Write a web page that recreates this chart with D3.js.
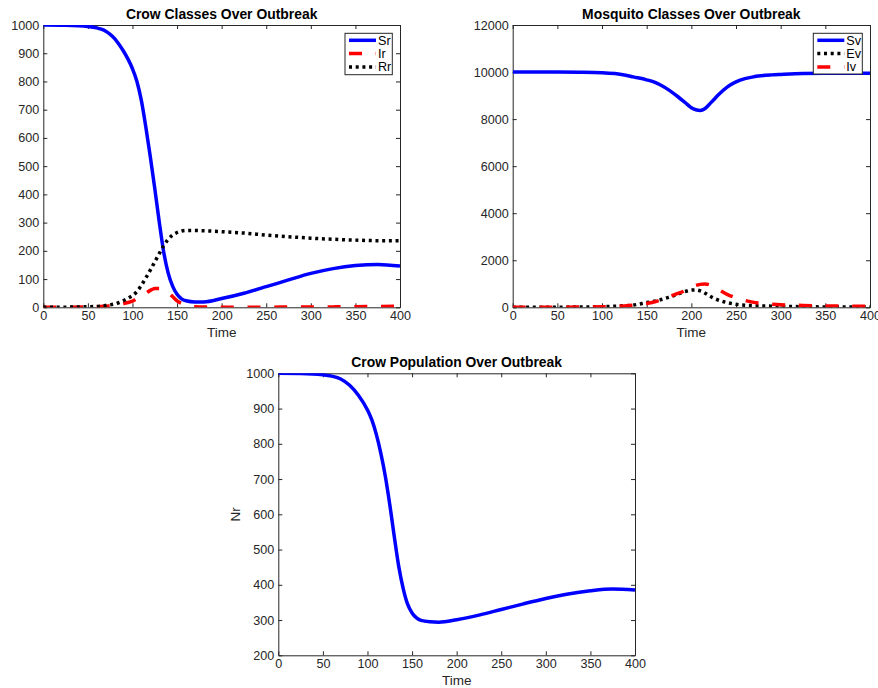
<!DOCTYPE html>
<html>
<head>
<meta charset="utf-8">
<script src="https://cdn.jsdelivr.net/npm/d3@7"></script>
<style>
  html, body { margin: 0; padding: 0; background: #fff; }
  svg { display: block; font-family: "Liberation Sans", Arial, Helvetica, sans-serif; }
</style>
</head>
<body>
<svg id="chart" width="878" height="688"></svg>
<script>
// ---------------- DATA ----------------
const crowTime = [0, 25, 50, 60, 65, 70, 75, 80, 85, 90, 95, 100, 105, 110, 115, 120, 125, 130, 135, 140, 145, 150, 155, 160, 170, 180, 200, 225, 250, 275, 300, 325, 350, 375, 400];
const crowSr   = [1000, 999, 995, 990, 985, 978, 967, 952, 931, 907, 879, 845, 800, 732, 638, 533, 421, 303, 196, 122, 75, 46, 30, 23, 19, 19, 31, 50, 73, 97, 120, 137, 148, 152, 146];
const crowIr   = [0, 0.3, 1, 2, 3, 4, 5.5, 7, 10, 13, 17, 22, 31, 40, 50, 60, 67, 67, 62, 52, 38, 23, 14, 8, 2, 1, 0.5, 0.5, 0.5, 0.8, 1, 1.5, 2, 3, 4];
const crowRr   = [0, 0.5, 2, 3, 4.5, 6, 8.5, 12, 17, 24, 32, 42, 56, 78, 104, 132, 161, 190, 218, 241, 256, 265, 270, 272, 272, 271, 268, 263, 256, 250, 245, 241, 238, 236, 236];

const mosqTime = [0, 50, 75, 100, 125, 135, 150, 160, 165, 175, 185, 190, 195, 200, 205, 210, 215, 220, 225, 230, 240, 250, 260, 270, 275, 290, 300, 325, 350, 400];
const mosqSv   = [10000, 9997, 9990, 9968, 9878, 9795, 9670, 9550, 9460, 9230, 8950, 8800, 8640, 8480, 8395, 8370, 8440, 8620, 8820, 9020, 9360, 9580, 9720, 9800, 9830, 9880, 9900, 9940, 9950, 9950];
const mosqEv   = [0, 5, 12, 25, 65, 95, 200, 270, 315, 430, 560, 640, 690, 730, 740, 700, 610, 490, 390, 310, 200, 127, 90, 70, 60, 48, 40, 25, 15, 8];
const mosqIv   = [0, 3, 8, 20, 60, 90, 160, 240, 300, 450, 590, 660, 760, 850, 930, 975, 990, 960, 880, 770, 550, 400, 290, 210, 185, 135, 110, 80, 60, 45];

const popTime  = [0, 25, 50, 60, 70, 80, 90, 100, 105, 110, 115, 120, 125, 130, 135, 140, 145, 150, 155, 160, 170, 180, 200, 225, 250, 275, 300, 325, 350, 375, 400];
const popNr    = [1000, 999.5, 996, 992, 984, 966, 937, 896, 867, 826, 773, 708, 628, 538, 453, 390, 345, 320, 306, 299, 295, 294, 301, 314, 330, 346, 361, 374, 383, 388, 385];

const xTicks      = [0, 50, 100, 150, 200, 250, 300, 350, 400];
const crowYTicks  = [0, 100, 200, 300, 400, 500, 600, 700, 800, 900, 1000];
const mosqYTicks  = [0, 2000, 4000, 6000, 8000, 10000, 12000];
const popYTicks   = [200, 300, 400, 500, 600, 700, 800, 900, 1000];

const titles = ["Crow Classes Over Outbreak", "Mosquito Classes Over Outbreak", "Crow Population Over Outbreak"];
const crowLegend = ["Sr", "Ir", "Rr"];
const mosqLegend = ["Sv", "Ev", "Iv"];

// ---------------- STYLE ----------------
const AX = "#262626";
const TICK_FS = 12.6, LABEL_FS = 13.5, TITLE_FS = 13.9;
const styles = {
  solid:  { color: "#0000ff", dash: null },
  dashed: { color: "#ff0000", dash: "13,13.7" },
  dotted: { color: "#000000", dash: "3,3.7" }
};
const LW = 3.5;

const svg = d3.select("#chart");
const defs = svg.append("defs");
let clipId = 0;

function panel(cfg) {
  const { left, right, top, bottom, xDomain, yDomain, yTicks, title, ylabel } = cfg;
  const x = d3.scaleLinear().domain(xDomain).range([left, right]);
  const y = d3.scaleLinear().domain(yDomain).range([bottom, top]);
  const g = svg.append("g");

  const id = "clip" + (clipId++);
  defs.append("clipPath").attr("id", id).append("rect")
    .attr("x", left).attr("y", top).attr("width", right - left).attr("height", bottom - top);

  const axB = g.append("g").attr("transform", `translate(0,${bottom})`)
    .call(d3.axisBottom(x).tickValues(xTicks).tickSizeInner(-4).tickSizeOuter(0).tickPadding(4).tickFormat(d3.format("d")));
  const axT = g.append("g").attr("transform", `translate(0,${top})`)
    .call(d3.axisTop(x).tickValues(xTicks).tickSizeInner(-4).tickSizeOuter(0).tickFormat(""));
  const axL = g.append("g").attr("transform", `translate(${left},0)`)
    .call(d3.axisLeft(y).tickValues(yTicks).tickSizeInner(-4).tickSizeOuter(0).tickPadding(4).tickFormat(d3.format("d")));
  const axR = g.append("g").attr("transform", `translate(${right},0)`)
    .call(d3.axisRight(y).tickValues(yTicks).tickSizeInner(-4).tickSizeOuter(0).tickFormat(""));
  [axB, axT, axL, axR].forEach(a => {
    a.select(".domain").attr("stroke", AX);
    a.selectAll(".tick line").attr("stroke", AX);
    a.selectAll("text").attr("fill", AX).style("font-size", TICK_FS + "px")
      .style("font-family", '"Liberation Sans", Arial, Helvetica, sans-serif');
  });

  g.append("text").attr("x", (left + right) / 2).attr("y", top - 6)
    .attr("text-anchor", "middle").style("font-weight", "bold").style("font-size", TITLE_FS + "px")
    .attr("fill", "#000").text(title);
  g.append("text").attr("x", (left + right) / 2).attr("y", bottom + 30)
    .attr("text-anchor", "middle").style("font-size", LABEL_FS + "px").attr("fill", AX).text("Time");
  if (ylabel) {
    g.append("text").attr("transform", `translate(${left - 38},${(top + bottom) / 2}) rotate(-90)`)
      .attr("text-anchor", "middle").style("font-size", LABEL_FS + "px").attr("fill", AX).text(ylabel);
  }
  const plot = g.append("g").attr("clip-path", `url(#${id})`);
  return { x, y, g, plot };
}

function drawLine(p, xs, ys, style) {
  const s = styles[style];
  const line = d3.line().x((d, i) => p.x(xs[i])).y(d => p.y(d)).curve(d3.curveMonotoneX);
  p.plot.append("path").datum(ys).attr("d", line)
    .attr("fill", "none").attr("stroke", s.color).attr("stroke-width", LW)
    .attr("stroke-dasharray", s.dash);
}

function legend(p, box, names, styleNames) {
  const lg = p.g.append("g");
  lg.append("rect").attr("x", box.x).attr("y", box.y).attr("width", box.w).attr("height", box.h)
    .attr("fill", "#fff").attr("stroke", AX).attr("stroke-width", 1);
  names.forEach((n, i) => {
    const yy = box.y + 7 + i * 13.3;
    const s = styles[styleNames[i]];
    lg.append("line").attr("x1", box.x + 4).attr("x2", box.x + 31).attr("y1", yy).attr("y2", yy)
      .attr("stroke", s.color).attr("stroke-width", LW).attr("stroke-dasharray", s.dash);
    lg.append("text").attr("x", box.x + 33).attr("y", yy).attr("dy", "0.35em")
      .style("font-size", TICK_FS + "px").attr("fill", "#000").text(n);
  });
}

// ---------------- PANEL 1 ----------------
const p1 = panel({ left: 43.3, right: 400, top: 25, bottom: 307.3, xDomain: [0, 400], yDomain: [0, 1000],
  yTicks: crowYTicks, title: titles[0] });
drawLine(p1, crowTime, crowSr, "solid");
drawLine(p1, crowTime, crowIr, "dashed");
drawLine(p1, crowTime, crowRr, "dotted");
legend(p1, { x: 345, y: 33.3, w: 47.3, h: 41.4 }, crowLegend, ["solid", "dashed", "dotted"]);

// ---------------- PANEL 2 ----------------
const p2 = panel({ left: 512.7, right: 870, top: 25, bottom: 307.3, xDomain: [0, 400], yDomain: [0, 12000],
  yTicks: mosqYTicks, title: titles[1] });
drawLine(p2, mosqTime, mosqSv, "solid");
drawLine(p2, mosqTime, mosqEv, "dotted");
drawLine(p2, mosqTime, mosqIv, "dashed");
legend(p2, { x: 813.3, y: 33.3, w: 49, h: 40.7 }, mosqLegend, ["solid", "dotted", "dashed"]);

// ---------------- PANEL 3 ----------------
const p3 = panel({ left: 278.3, right: 635, top: 373.3, bottom: 655.3, xDomain: [0, 400], yDomain: [200, 1000],
  yTicks: popYTicks, title: titles[2], ylabel: "Nr" });
drawLine(p3, popTime, popNr, "solid");
</script>
</body>
</html>
